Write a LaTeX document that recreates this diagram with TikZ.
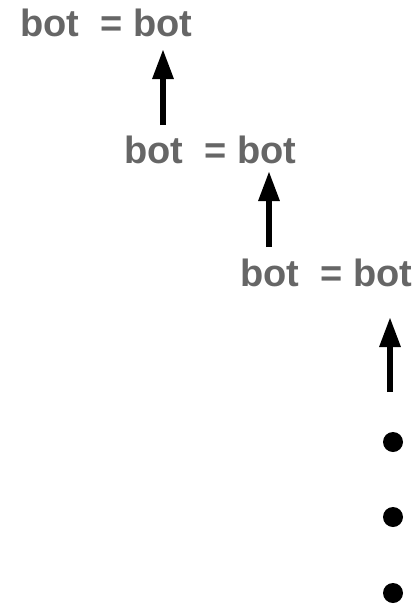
\documentclass[tikz,border=0pt]{standalone}
\usepackage{fontspec}
\setmainfont{Liberation Sans}
\usetikzlibrary{arrows.meta}
\definecolor{txtgray}{HTML}{666666}
\tikzset{
  eqtext/.style={anchor=base west, inner sep=0pt, outer sep=0pt, text=txtgray, font=\fontsize{38}{41}\selectfont\bfseries},
  uparrow/.style={line width=6pt, -{Triangle[length=30pt,width=20pt]}},
  dotnode/.style={circle, fill=black, minimum size=20pt, inner sep=0pt}
}
\begin{document}
\begin{tikzpicture}[x=1pt,y=-1pt]
\useasboundingbox (0,0) rectangle (416,606);
\node[eqtext] (t1) at (20.3,36) {bot\ \ = bot};
\node[eqtext] (t2) at (124.3,163) {bot\ \ = bot};
\node[eqtext] (t3) at (240.3,286) {bot\ \ = bot};
\coordinate (a1s) at (163,125);
\coordinate (a1e) at (163,49);
\coordinate (a2s) at (269,247);
\coordinate (a2e) at (269,171);
\coordinate (a3s) at (390,392);
\coordinate (a3e) at (390,317);
\draw[uparrow] (a1s) -- (a1e);
\draw[uparrow] (a2s) -- (a2e);
\draw[uparrow] (a3s) -- (a3e);
\node[dotnode] (d1) at (393,442) {};
\node[dotnode] (d2) at (393,517) {};
\node[dotnode] (d3) at (393,593) {};
\end{tikzpicture}
\end{document}
